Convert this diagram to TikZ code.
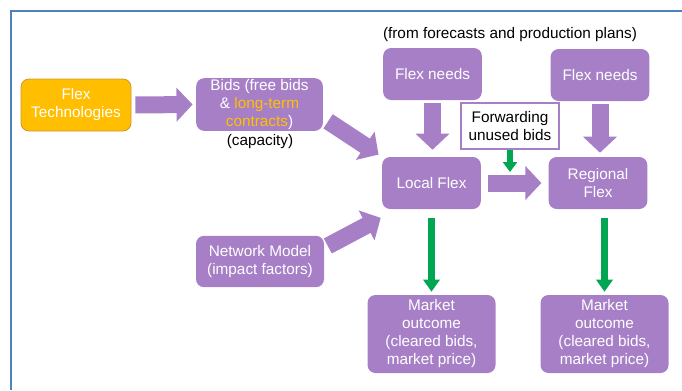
\documentclass[tikz,border=0pt]{standalone}
\usepackage{fontspec}
\setmainfont{Liberation Sans}
\usetikzlibrary{arrows.meta}
\definecolor{flexpurple}{RGB}{166,127,199}
\definecolor{flexorange}{RGB}{255,190,0}
\definecolor{flexedge}{RGB}{204,150,50}
\definecolor{flexgreen}{RGB}{0,166,81}
\definecolor{frameblue}{RGB}{79,129,189}
\definecolor{textorange}{RGB}{255,192,0}
\tikzset{
    mynode/.style = {rectangle, rounded corners=6pt, fill=flexpurple, text=white, align=center, inner sep=0pt, minimum width=74pt, minimum height=39pt},
    mynodeo/.style = {mynode, fill=flexorange, draw=flexedge, line width=0.6pt},
    mynodew/.style = {rectangle, draw=flexpurple, line width=1.2pt, fill=white, text=black, align=center, inner sep=0pt, minimum width=73.5pt, minimum height=34.5pt},
    plain/.style = {text=black, inner sep=0pt},
    edgep/.style = {-{Triangle[width=24.75pt,length=12pt]}, line width=12.75pt, flexpurple}, % block arrow
    edgeg/.style = {-{Triangle[width=12pt,length=9pt]}, line width=5pt, flexgreen}, % outcome
    edges/.style = {-{Triangle[width=10.5pt,length=7.5pt]}, line width=5pt, flexgreen}, % forwarding
    framel/.style = {frameblue, line width=1.5pt}
}
\begin{document}
\begin{tikzpicture}[x=0.75pt, y=-0.75pt, font=\fontsize{11.5}{13.5}\selectfont]
  \useasboundingbox (0,0) rectangle (682,390);
  \draw[framel] (11,390) -- (11,11) -- (682,11);

  \node[plain] (title) at (510,35) {(from forecasts and production plans)};
  \node[mynodeo, minimum width=82.5pt] (ft) at (76,105) {Flex\\Technologies};
  \node[mynode, minimum width=95pt, minimum height=39.5pt] (bids) at (259.5,104.5)
    {Bids (free bids\\\& \textcolor{textorange}{long-term}\\\textcolor{textorange}{contracts})};
  \node[plain] (cap) at (260,142) {(capacity)};
  \node[mynode] (need1) at (432.5,74) {Flex needs};
  \node[mynode] (need2) at (600,75) {Flex needs};
  \node[mynodew] (fwd) at (510,126) {Forwarding\\unused bids};
  \node[mynode] (local) at (431.5,183) {Local Flex};
  \node[mynode] (regional) at (598,183) {Regional\\Flex};
  \node[mynode, minimum width=96pt, minimum height=38.5pt] (network) at (260,261.5)
    {Network Model\\(impact factors)};
  \node[mynode, minimum width=96pt, minimum height=58.5pt] (market1) at (431.5,334)
    {Market\\outcome\\(cleared bids,\\market price)};
  \node[mynode, minimum width=96pt, minimum height=58.5pt] (market2) at (604.5,334)
    {Market\\outcome\\(cleared bids,\\market price)};

  \draw[edgep, shorten <=3pt, shorten >=2.5pt] (ft.east) -- (bids.west);
  \draw[edgep, shorten <=4.5pt, shorten >=3pt] (bids.-12) -- (local.north west);
  \draw[edgep, shorten <=3pt, shorten >=1pt] (network.12) -- ([yshift=-6pt]local.south west);
  \draw[edgep, shorten <=2.25pt, shorten >=5.25pt] (need1.south) -- (need1.south |- local.north);
  \draw[edgep, shorten <=2pt, shorten >=3pt] (need2.south) -- (need2.south |- regional.north);
  \draw[edgep, shorten <=5.25pt, shorten >=5.25pt] (local.east) -- coordinate[pos=0.45] (lr) (regional.west);

  \draw[edgeg, shorten <=6.75pt, shorten >=2.25pt] (local.south) -- (market1.north);
  \draw[edgeg, shorten <=6.75pt, shorten >=2.25pt] (regional.south -| market2.north) -- (market2.north);
  \draw[edges, shorten >=8.25pt] (fwd.south) -- (fwd.south |- lr);
\end{tikzpicture}
\end{document}
